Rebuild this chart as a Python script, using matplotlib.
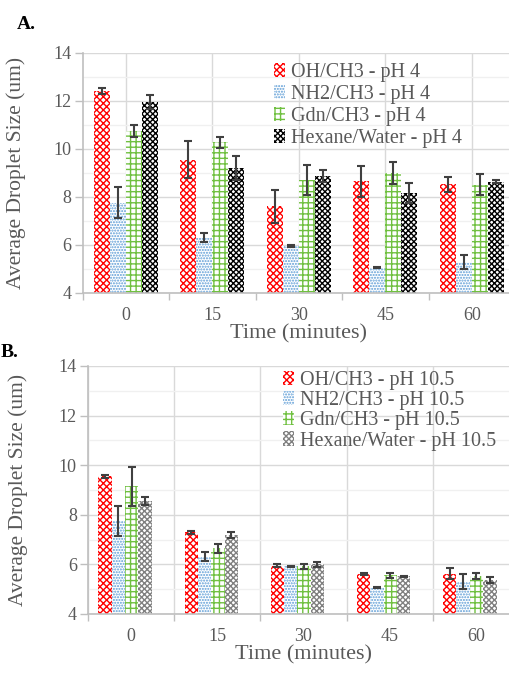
import numpy as np
import matplotlib
matplotlib.use('Agg')
import matplotlib.pyplot as plt
from matplotlib.patches import Patch

plt.rcParams['font.family'] = ['Liberation Serif', 'DejaVu Serif']
plt.rcParams['hatch.linewidth'] = 1.0

times = ['0', '15', '30', '45', '60']
series_a = ['OH/CH3 - pH 4', 'NH2/CH3 - pH 4', 'Gdn/CH3 - pH 4', 'Hexane/Water - pH 4']
series_b = ['OH/CH3 - pH 10.5', 'NH2/CH3 - pH 10.5', 'Gdn/CH3 - pH 10.5', 'Hexane/Water - pH 10.5']

# pH 4 (mean, error)
oh_a = [12.4, 9.55, 7.6, 8.65, 8.52]
oh_a_err = [0.12, 0.78, 0.68, 0.65, 0.3]
nh2_a = [7.75, 6.3, 5.95, 5.05, 5.3]
nh2_a_err = [0.65, 0.19, 0.03, 0.03, 0.3]
gdn_a = [10.75, 10.27, 8.7, 8.98, 8.5]
gdn_a_err = [0.25, 0.22, 0.62, 0.45, 0.44]
hex_a = [11.95, 9.2, 8.85, 8.15, 8.63]
hex_a_err = [0.3, 0.5, 0.25, 0.42, 0.05]

# pH 10.5 (mean, error)
oh_b = [9.55, 7.3, 5.95, 5.63, 5.62]
oh_b_err = [0.05, 0.06, 0.05, 0.04, 0.22]
nh2_b = [7.75, 6.3, 5.92, 5.05, 5.3]
nh2_b_err = [0.6, 0.18, 0.02, 0.02, 0.3]
gdn_b = [9.15, 6.65, 5.92, 5.57, 5.55]
gdn_b_err = [0.78, 0.19, 0.1, 0.1, 0.12]
hex_b = [8.55, 7.18, 6.0, 5.52, 5.38]
hex_b_err = [0.15, 0.13, 0.1, 0.03, 0.13]

GRAY = '#595959'
hatches = ['xxxxx', '......', '+++', 'xxxxxx']
colors_a = ['#ff0000', '#5b9bd5', '#70c040', '#000000']
colors_b = ['#ff0000', '#5b9bd5', '#70c040', '#808080']


def draw_panel(ax, data, errs, names, colors, bar_w, shift, grid_at_centers):
    x = np.arange(len(times))
    n = len(data)
    for i in range(n):
        pos = x + shift + (i - (n - 1) / 2) * bar_w
        ax.bar(pos, data[i], bar_w, bottom=0, facecolor='white', edgecolor=colors[i],
               hatch=hatches[i], linewidth=0, zorder=2)
        ax.errorbar(pos, data[i], yerr=errs[i], fmt='none', ecolor='#404040',
                    elinewidth=1.5, capsize=3, capthick=1.5, zorder=3)
    ax.set_ylim(4, 14)
    ax.set_xlim(-0.5, 4.5)
    ax.set_yticks(np.arange(4, 15, 2))
    ax.set_yticks(np.arange(5, 14, 2), minor=True)
    ax.set_xticks(x)
    ax.set_xticklabels(times)
    ax.set_xticks(np.arange(-0.5, 5, 1), minor=True)
    ax.tick_params(axis='x', which='major', length=0, labelsize=13, labelcolor=GRAY, pad=10)
    ax.tick_params(axis='x', which='minor', length=5, color='#bfbfbf', width=1)
    ax.tick_params(axis='y', which='major', length=6, color='#bfbfbf', width=1,
                   labelsize=13, labelcolor=GRAY, pad=2)
    ax.tick_params(axis='y', which='minor', length=0)
    ax.grid(axis='y', which='major', color='#d9d9d9', lw=1, zorder=0)
    ax.grid(axis='y', which='minor', color='#f0f0f0', lw=1, zorder=0)
    ax.grid(axis='x', which='major' if grid_at_centers else 'minor', color='#d9d9d9', lw=1, zorder=0)
    for s in ['top', 'right']:
        ax.spines[s].set_visible(False)
    for s in ['left', 'bottom']:
        ax.spines[s].set_color('#bfbfbf')
        ax.spines[s].set_linewidth(1.2)
    ax.set_axisbelow(True)
    ax.set_ylabel('Average Droplet Size (um)', fontsize=15.5, color=GRAY)
    ax.set_xlabel('Time (minutes)', fontsize=16, color=GRAY, labelpad=0)
    handles = [Patch(facecolor='white', edgecolor=colors[i], hatch=hatches[i], linewidth=0)
               for i in range(n)]
    return handles


fig = plt.figure(figsize=(5.1, 6.75), dpi=100)

ax1 = fig.add_axes([0.162, 0.566, 0.848, 0.356])
h1 = draw_panel(ax1, [oh_a, nh2_a, gdn_a, hex_a], [oh_a_err, nh2_a_err, gdn_a_err, hex_a_err],
                series_a, colors_a, 0.185, 0.0, True)
ax1.legend(h1, series_a, loc='upper left', bbox_to_anchor=(0.42, 1.0), frameon=False,
           fontsize=14.5, labelcolor=GRAY, handlelength=0.55, handleheight=0.7,
           handletextpad=0.3, labelspacing=0.15, borderaxespad=0.1)
ax1.yaxis.set_label_coords(-0.13, 0.5)

ax2 = fig.add_axes([0.1725, 0.0904, 0.845, 0.3674])
h2 = draw_panel(ax2, [oh_b, nh2_b, gdn_b, hex_b], [oh_b_err, nh2_b_err, gdn_b_err, hex_b_err],
                series_b, colors_b, 0.155, -0.07, False)
ax2.legend(h2, series_b, loc='upper left', bbox_to_anchor=(0.43, 1.02), frameon=False,
           fontsize=14.5, labelcolor=GRAY, handlelength=0.55, handleheight=0.7,
           handletextpad=0.3, labelspacing=0.05, borderaxespad=0.1)
ax2.yaxis.set_label_coords(-0.14, 0.5)

fig.text(0.033, 0.963, 'A.', fontsize=14, fontweight='bold', color='black', va='center')
fig.text(0.002, 0.478, 'B.', fontsize=14, fontweight='bold', color='black', va='center')

fig.savefig('out.png', dpi=100)
